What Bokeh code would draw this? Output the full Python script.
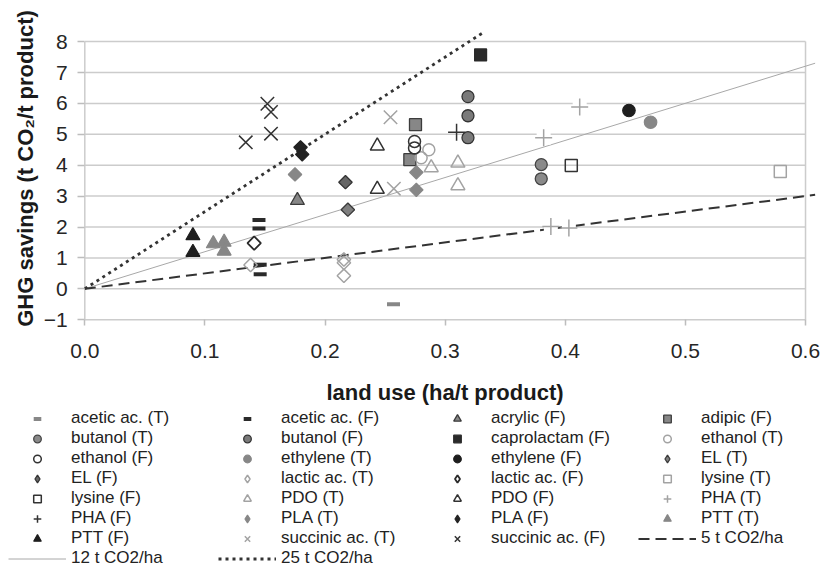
import numpy as np
from bokeh.plotting import figure
from bokeh.models import (FixedTicker, PrintfTickFormatter, Legend, LegendItem, Label,
                          Range1d)
from bokeh.embed import file_html
from bokeh.resources import INLINE

# ---------------- data (land use ha/t, GHG savings t CO2/t) ----------------
X_TICKS = [0.0, 0.1, 0.2, 0.3, 0.4, 0.5, 0.6]
Y_TICKS = [-1, 0, 1, 2, 3, 4, 5, 6, 7, 8]

acetic_T_x = [0.257]
acetic_T_y = [-0.5]
acetic_F_x = [0.145, 0.145, 0.146, 0.146]
acetic_F_y = [2.23, 1.95, 0.78, 0.47]
acrylic_F_x = [0.177]
acrylic_F_y = [2.86]
adipic_F_x = [0.2753, 0.2706]
adipic_F_y = [5.31, 4.18]
butanol_T_x = [0.380, 0.380]
butanol_T_y = [4.02, 3.56]
butanol_F_x = [0.319, 0.319, 0.319]
butanol_F_y = [6.22, 5.60, 4.89]
caprolactam_F_x = [0.3295]
caprolactam_F_y = [7.57]
ethanol_T_x = [0.2864, 0.2800]
ethanol_T_y = [4.50, 4.24]
ethanol_F_x = [0.2745, 0.2745]
ethanol_F_y = [4.77, 4.56]
ethylene_T_x = [0.471]
ethylene_T_y = [5.39]
ethylene_F_x = [0.453]
ethylene_F_y = [5.77]
EL_T_x = [0.219]
EL_T_y = [2.56]
EL_F_x = [0.217]
EL_F_y = [3.45]
lactic_T_x = [0.138, 0.2157, 0.2157, 0.2157]
lactic_T_y = [0.77, 0.95, 0.84, 0.42]
lactic_F_x = [0.141]
lactic_F_y = [1.48]
lysine_T_x = [0.579]
lysine_T_y = [3.80]
lysine_F_x = [0.405]
lysine_F_y = [3.99]
PDO_T_x = [0.2884, 0.3106, 0.3106]
PDO_T_y = [3.92, 4.07, 3.34]
PDO_F_x = [0.2435, 0.2435]
PDO_F_y = [4.62, 3.22]
PHA_T_x = [0.382, 0.412, 0.388, 0.403]
PHA_T_y = [4.89, 5.88, 2.02, 1.97]
PHA_F_x = [0.3095]
PHA_F_y = [5.07]
PLA_T_x = [0.175, 0.276, 0.276]
PLA_T_y = [3.70, 3.77, 3.20]
PLA_F_x = [0.1796, 0.181]
PLA_F_y = [4.58, 4.35]
PTT_T_x = [0.107, 0.116, 0.116]
PTT_T_y = [1.46, 1.51, 1.22]
PTT_F_x = [0.090, 0.090]
PTT_F_y = [1.72, 1.18]
succinic_T_x = [0.2545, 0.2573]
succinic_T_y = [5.55, 3.24]
succinic_F_x = [0.134, 0.152, 0.155, 0.155]
succinic_F_y = [4.74, 5.99, 5.72, 5.02]

line5_x = [0.0, 0.608]
line5_y = [0.0, 3.04]
line12_x = [0.0, 0.608]
line12_y = [0.0, 7.30]
line25_x = [0.0, 0.332]
line25_y = [0.0, 8.30]

# ---------------- figure ----------------
# The frame fills the whole figure; axes sit at fixed data positions so the
# legend (below the axes) can live inside the frame.
FONT = "Liberation Sans"
W, H = 822, 568
PX_X = 1201.2   # px per unit of land use
PX_Y = 30.9     # px per unit of GHG savings
X0_PX = 84.3    # x=0 position in figure px
Y0_PX = 288.3   # y=0 position in figure px (from top)
p = figure(width=W, height=H,
           x_range=(-X0_PX / PX_X, (W - X0_PX) / PX_X),
           y_range=(-(H - Y0_PX) / PX_Y, Y0_PX / PX_Y),
           output_backend="svg", toolbar_location=None,
           min_border=0, min_border_left=0, min_border_right=0,
           min_border_top=0, min_border_bottom=0)
p.outline_line_color = None
p.xgrid.grid_line_color = None
p.ygrid.grid_line_color = None
# an off-screen x range, used only for legend proxies of the diamond series
p.extra_x_ranges = {"legend_proxy": Range1d(start=10, end=11)}

# gridlines and plot-area border
n = len(Y_TICKS)
p.segment(x0=[X_TICKS[0]] * n, x1=[X_TICKS[-1]] * n, y0=Y_TICKS, y1=Y_TICKS,
          line_color="#cccccc", line_width=1.5)
p.segment(x0=[X_TICKS[0], X_TICKS[-1]], x1=[X_TICKS[0], X_TICKS[-1]],
          y0=[Y_TICKS[0]] * 2, y1=[Y_TICKS[-1]] * 2,
          line_color="#cccccc", line_width=1.5)

series = {}

def ln(key, xs, ys, **kw):
    series[key] = [p.line(xs, ys, **kw)]

ln("12 t CO2/ha", line12_x, line12_y, line_color="#a8a8a8", line_width=1)
ln("25 t CO2/ha", line25_x, line25_y, line_color="#333333", line_width=2.8, line_dash="3 4")
ln("5 t CO2/ha", line5_x, line5_y, line_color="#333333", line_width=2, line_dash="11 6")

GRAY = "#878787"
DARK = "#2a2a2a"
LIGHT = "#a3a3a3"
D45 = np.pi / 4


def sc(key, xs, ys, marker, fill, line, size, lw=1.2, angle=0.0):
    r = p.scatter(xs, ys, marker=marker, size=size, fill_color=fill,
                  line_color=line, line_width=lw, angle=angle)
    series[key] = [r]


def dia(key, xs, ys, fill, line, lw=1.2):
    # plotted as a square turned by 45 degrees; the legend gets a diamond proxy
    p.scatter(xs, ys, marker="square", size=9.5, fill_color=fill,
              line_color=line, line_width=lw, angle=D45)
    proxy = p.scatter(xs, ys, x_range_name="legend_proxy", marker="diamond", size=14,
                      fill_color=fill, line_color=line, line_width=lw)
    series[key] = [proxy]

sc("acetic ac. (T)", acetic_T_x, acetic_T_y, "dash", None, GRAY, 13, lw=4)
sc("acetic ac. (F)", acetic_F_x, acetic_F_y, "dash", None, DARK, 13, lw=4)
sc("acrylic (F)", acrylic_F_x, acrylic_F_y, "triangle", GRAY, "#3c3c3c", 14, lw=1.3)
sc("adipic (F)", adipic_F_x, adipic_F_y, "square", GRAY, "#3c3c3c", 12, lw=1.3)
sc("butanol (T)", butanol_T_x, butanol_T_y, "circle", "#8a8a8a", "#444444", 12, lw=1.3)
sc("butanol (F)", butanol_F_x, butanol_F_y, "circle", "#7a7a7a", "#333333", 12, lw=1.3)
sc("caprolactam (F)", caprolactam_F_x, caprolactam_F_y, "square", DARK, DARK, 12)
sc("ethanol (T)", ethanol_T_x, ethanol_T_y, "circle", None, LIGHT, 12, lw=1.5)
sc("ethanol (F)", ethanol_F_x, ethanol_F_y, "circle", None, "#333333", 12, lw=1.5)
sc("ethylene (T)", ethylene_T_x, ethylene_T_y, "circle", GRAY, GRAY, 12.5)
sc("ethylene (F)", ethylene_F_x, ethylene_F_y, "circle", "#1e1e1e", "#1e1e1e", 12.5)
dia("EL (T)", EL_T_x, EL_T_y, "#7f7f7f", "#3a3a3a", lw=1.3)
dia("EL (F)", EL_F_x, EL_F_y, "#666666", "#333333", lw=1.3)
dia("lactic ac. (T)", lactic_T_x, lactic_T_y, None, LIGHT, lw=1.5)
dia("lactic ac. (F)", lactic_F_x, lactic_F_y, None, DARK, lw=1.8)
sc("lysine (T)", lysine_T_x, lysine_T_y, "square", None, LIGHT, 12, lw=1.5)
sc("lysine (F)", lysine_F_x, lysine_F_y, "square", None, "#333333", 12, lw=1.5)
sc("PDO (T)", PDO_T_x, PDO_T_y, "triangle", None, LIGHT, 14, lw=1.5)
sc("PDO (F)", PDO_F_x, PDO_F_y, "triangle", None, "#333333", 14, lw=1.5)
# PHA (T): plus on a small white patch
p.scatter(PHA_T_x, PHA_T_y, marker="square", size=14, fill_color="white", line_color=None)
sc("PHA (T)", PHA_T_x, PHA_T_y, "cross", None, LIGHT, 17, lw=1.5)
sc("PHA (F)", PHA_F_x, PHA_F_y, "cross", None, "#333333", 17, lw=1.5)
dia("PLA (T)", PLA_T_x, PLA_T_y, GRAY, GRAY)
dia("PLA (F)", PLA_F_x, PLA_F_y, "#222222", "#222222")
sc("PTT (T)", PTT_T_x, PTT_T_y, "triangle", GRAY, GRAY, 14)
sc("PTT (F)", PTT_F_x, PTT_F_y, "triangle", "#1e1e1e", "#1e1e1e", 14)
sc("succinic ac. (T)", succinic_T_x, succinic_T_y, "x", None, LIGHT, 19, lw=1.5)
sc("succinic ac. (F)", succinic_F_x, succinic_F_y, "x", None, "#333333", 19, lw=1.5)

# ---------------- axes ----------------
for ax in (p.xaxis[0], p.yaxis[0]):
    ax.axis_line_color = None
    ax.major_tick_line_color = "#bdbdbd"
    ax.major_tick_line_width = 1.5
    ax.major_tick_in = 0
    ax.minor_tick_line_color = None
    ax.major_label_text_font = FONT
    ax.major_label_text_font_size = "21px"
    ax.major_label_text_color = "#262626"
    ax.axis_label_text_font = FONT
    ax.axis_label_text_font_size = "22px"
    ax.axis_label_text_font_style = "bold"
    ax.axis_label_text_color = "#1a1a1a"

p.xaxis.fixed_location = Y_TICKS[0]
p.xaxis.ticker = FixedTicker(ticks=X_TICKS)
p.xaxis.formatter = PrintfTickFormatter(format="%.1f")
p.xaxis.bounds = (X_TICKS[0], X_TICKS[-1])
p.xaxis.major_tick_out = 6
p.xaxis.major_label_standoff = 18
p.xaxis.axis_label = "land use (ha/t product)"
p.xaxis.axis_label_standoff = 19

p.yaxis.fixed_location = X_TICKS[0]
p.yaxis.ticker = FixedTicker(ticks=Y_TICKS)
p.yaxis.bounds = (Y_TICKS[0], Y_TICKS[-1])
p.yaxis.major_tick_out = 7
p.yaxis.major_label_standoff = 10

# y-axis title as a rotated label (too long to sit on the axis itself)
p.add_layout(Label(x=25, y=H - 168, x_units="screen", y_units="screen",
                   text="GHG savings (t CO\u2082/t product)", angle=90, angle_units="deg",
                   text_align="center", text_baseline="middle", text_font=FONT,
                   text_font_size="22px", text_font_style="bold", text_color="#1a1a1a"))

# ---------------- legend ----------------
order = ["acetic ac. (T)", "acetic ac. (F)", "acrylic (F)", "adipic (F)",
         "butanol (T)", "butanol (F)", "caprolactam (F)", "ethanol (T)",
         "ethanol (F)", "ethylene (T)", "ethylene (F)", "EL (T)",
         "EL (F)", "lactic ac. (T)", "lactic ac. (F)", "lysine (T)",
         "lysine (F)", "PDO (T)", "PDO (F)", "PHA (T)",
         "PHA (F)", "PLA (T)", "PLA (F)", "PTT (T)",
         "PTT (F)", "succinic ac. (T)", "succinic ac. (F)", "5 t CO2/ha",
         "12 t CO2/ha", "25 t CO2/ha"]
items = [LegendItem(label=k, renderers=series[k]) for k in order]
legend = Legend(items=items, location=(8, 0), orientation="horizontal", ncols=4,
                border_line_color=None, background_fill_alpha=0, padding=0, margin=0,
                spacing=0, glyph_width=58, glyph_height=19, label_height=19,
                label_width=147, label_standoff=5,
                label_text_font=FONT, label_text_font_size="17px",
                label_text_color="#222222")
p.add_layout(legend)

open("out.html", "w").write(file_html(p, INLINE))
